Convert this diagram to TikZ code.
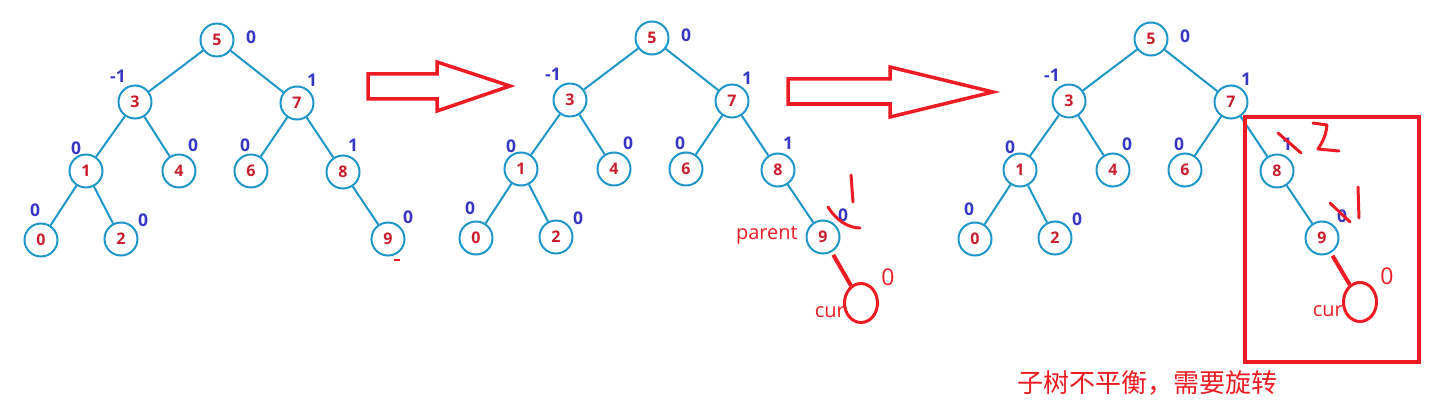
\documentclass[tikz,border=0pt]{standalone}
\usepackage{fontspec}
\setmainfont{Open Sans}
\newfontfamily\cjk{Noto Sans CJK SC}
\usetikzlibrary{shapes.geometric}
\definecolor{edgeblue}{RGB}{30,150,200}
\definecolor{numred}{RGB}{200,30,45}
\definecolor{balblue}{RGB}{55,55,195}
\definecolor{mkred}{RGB}{237,28,36}
\tikzset{
  tn/.style={circle,draw=edgeblue,line width=2pt,minimum size=33pt,inner sep=0pt,
    text=numred,font=\fontsize{16}{16}\selectfont\bfseries},
  bal/.style={text=balblue,font=\fontsize{17.5}{17.5}\selectfont\bfseries,inner sep=0pt},
  edge/.style={draw=edgeblue,line width=2pt},
  redpen/.style={draw=mkred,line width=3pt,line cap=round,line join=round},
  redlink/.style={draw=mkred,line width=4pt,shorten <=3pt},
  curnode/.style={ellipse,draw=mkred,line width=3pt,minimum width=33pt,minimum height=39pt,inner sep=0pt},
  redtxt/.style={text=mkred,font=\fontsize{20}{20}\selectfont,inner sep=0pt},
  redzero/.style={text=mkred,font=\fontsize{23}{23}\selectfont,inner sep=0pt},
  bigarrow/.style={draw=mkred,line width=3.5pt,line join=miter}
}
\newcommand\avltree[1]{%
  \node[tn] (#1n5) at (0,0) {5};
  \node[tn] (#1n3) at (-82,62) {3};
  \node[tn] (#1n7) at (80,63) {7};
  \node[tn] (#1n1) at (-131,131) {1};
  \node[tn] (#1n4) at (-38,131) {4};
  \node[tn] (#1n6) at (34,131) {6};
  \node[tn] (#1n8) at (126,132) {8};
  \node[tn] (#1n0) at (-176,200) {0};
  \node[tn] (#1n2) at (-96,199) {2};
  \node[tn] (#1n9) at (171,199) {9};
  \draw[edge] (#1n5) -- (#1n3);
  \draw[edge] (#1n5) -- (#1n7);
  \draw[edge] (#1n3) -- (#1n1);
  \draw[edge] (#1n3) -- (#1n4);
  \draw[edge] (#1n7) -- (#1n6);
  \draw[edge] (#1n7) -- (#1n8);
  \draw[edge] (#1n1) -- (#1n0);
  \draw[edge] (#1n1) -- (#1n2);
  \draw[edge] (#1n8) -- (#1n9);
  \node[bal] (#1l5) at (34,-3) {0};
  \node[bal] (#1l3) at (-99,36) {-1};
  \node[bal] (#1l7) at (95,40) {1};
  \node[bal] (#1l1) at (-141,108) {0};
  \node[bal] (#1l4) at (-24,105) {0};
  \node[bal] (#1l6) at (28,105) {0};
  \node[bal] (#1l8) at (136,105) {1};
  \node[bal] (#1l0) at (-182,170) {0};
  \node[bal] (#1l2) at (-74,180) {0};
  \node[bal] (#1l9) at (191,177) {0};
}
\begin{document}
\begin{tikzpicture}[x=1pt,y=-1pt]
\useasboundingbox (0,0) rectangle (1436,412);
% tree 1
\begin{scope}[shift={(217,40)}]
  \avltree{a}
\end{scope}
\draw[draw=mkred,line width=1.5pt] (394,260) -- (400,260);
% arrow 1
\draw[bigarrow] (368,74) -- (437,74) -- (437,62) -- (510,86) -- (437,111) -- (437,99) -- (368,99) -- cycle;
% tree 2
\begin{scope}[shift={(652,38)}]
  \avltree{b}
\end{scope}
\node[redtxt,anchor=east] (bparent) at (798,235) {parent};
\node[curnode] (bcur) at (861,303) {};
\draw[redlink] (bn9) -- (bcur);
\node[redtxt,anchor=east] (bcurtxt) at (845,312) {cur};
\node[redzero] (bz) at (888,277) {0};
\draw[redpen] (828,207) .. controls (836,220) and (848,228) .. (860,228);
\draw[redpen] (851,175) -- (853,202);
% arrow 2
\draw[bigarrow] (788,79) -- (890,79) -- (890,67) -- (993,92) -- (890,117) -- (890,104) -- (788,104) -- cycle;
% tree 3
\begin{scope}[shift={(1151,39)}]
  \avltree{c}
\end{scope}
\node[curnode] (ccur) at (1360,302) {};
\draw[redlink] (cn9) -- (ccur);
\node[redtxt,anchor=east] (ccurtxt) at (1343,311) {cur};
\node[redzero] (cz) at (1387,276) {0};
\draw[redpen] (1278,133) -- (1301,153);
\draw[redpen] (1313,123) -- (1327,125) .. controls (1326,136) and (1322,143) .. (1318,149) -- (1339,151);
\draw[redpen] (1330,203) -- (1350,222);
\draw[redpen] (1358,187) -- (1359,218);
\draw[draw=mkred,line width=3.5pt] (1245,117) rectangle (1419,362);
\node[text=mkred,font=\cjk\fontsize{26}{26}\selectfont,inner sep=0pt] (note) at (1147,383) {子树不平衡，需要旋转};
\end{tikzpicture}
\end{document}
